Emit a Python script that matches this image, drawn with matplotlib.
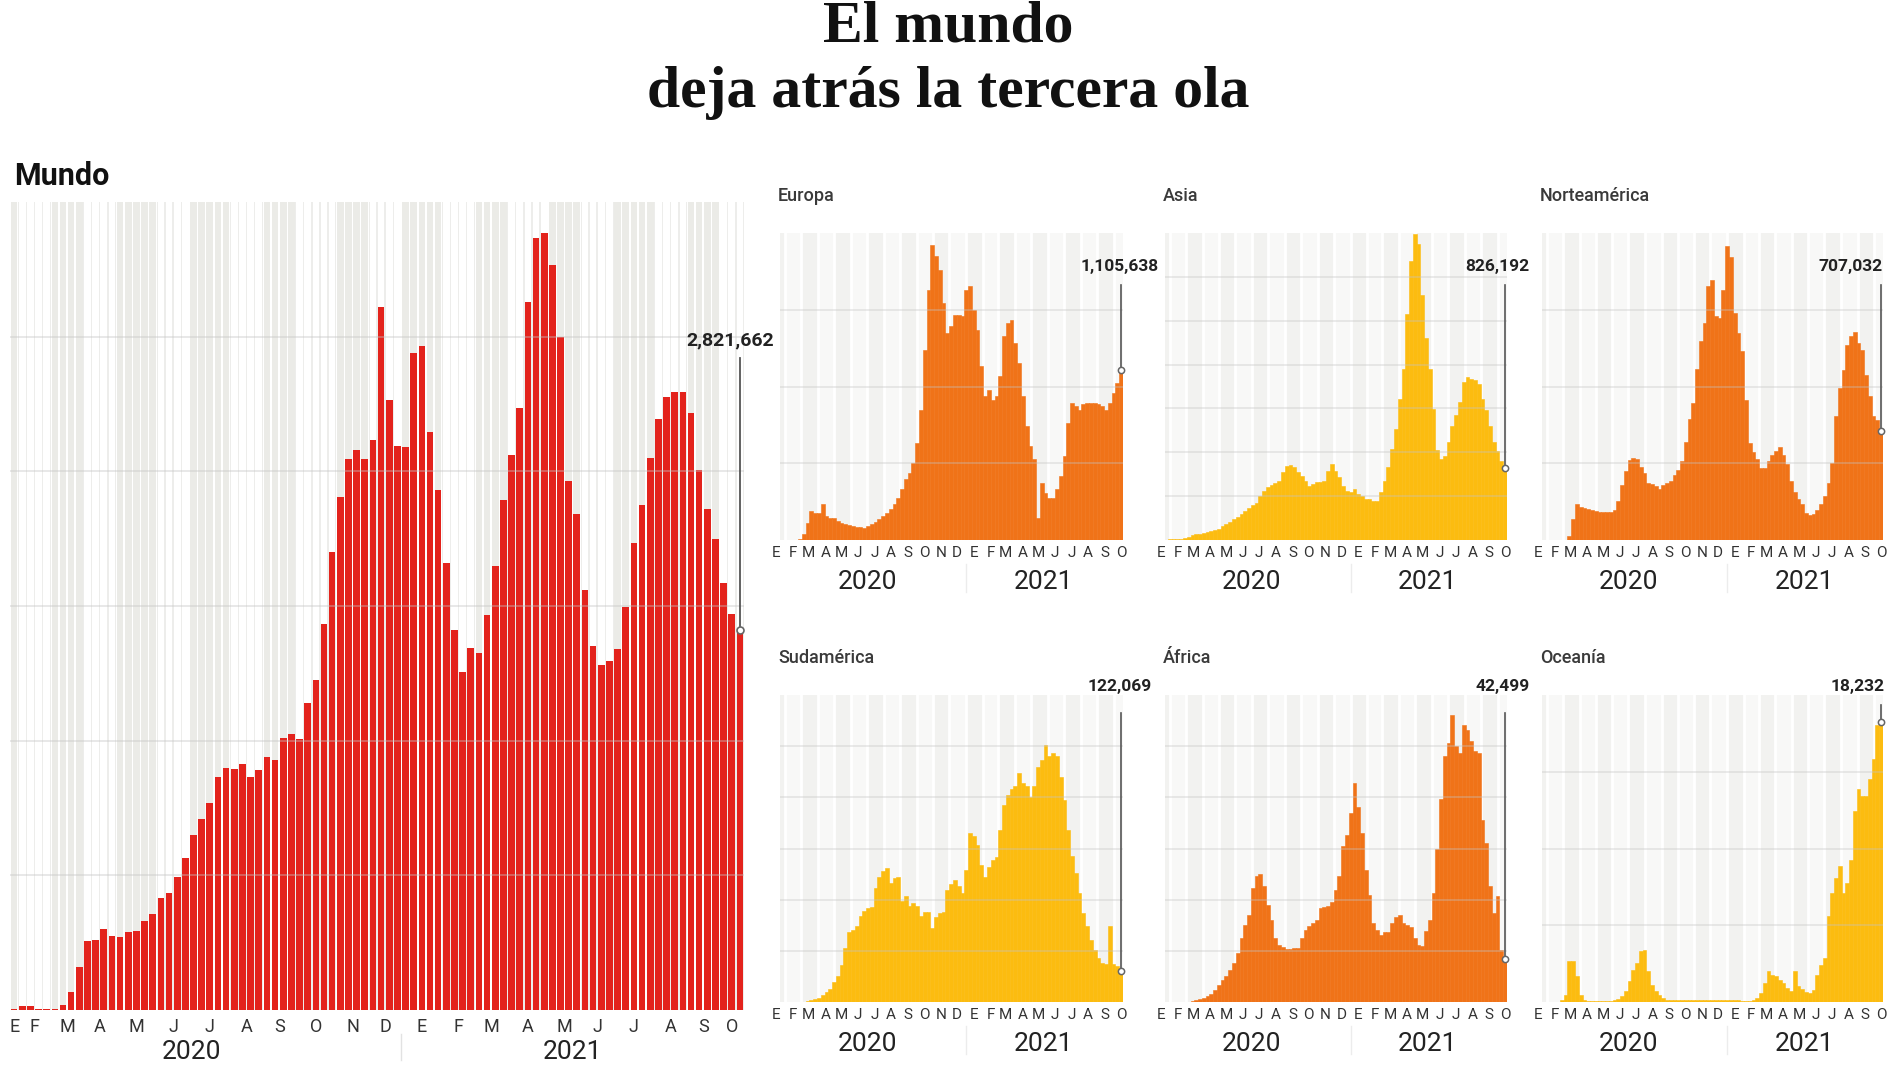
import matplotlib
matplotlib.use('Agg')
import matplotlib.pyplot as plt
import matplotlib.dates as mdates
import matplotlib.transforms as mtransforms
import numpy as np
import pandas as pd

plt.rcParams['font.family'] = ['Roboto', 'DejaVu Sans']

W, H = 1900, 1068

# semanas (viernes) de 2020-01-31 a 2021-10-15
semanas = pd.date_range('2020-01-31', periods=90, freq='7D')
MESES = 'EFMAMJJASOND'

# casos semanales, millones
mundo = [0.01, 0.03, 0.03, 0.005, 0.005, 0.01, 0.04, 0.13, 0.32, 0.51,
         0.52, 0.60, 0.55, 0.54, 0.58, 0.59, 0.66, 0.71, 0.83, 0.87,
         0.99, 1.13, 1.30, 1.42, 1.54, 1.73, 1.80, 1.79, 1.83, 1.73,
         1.78, 1.88, 1.86, 2.02, 2.05, 2.01, 2.28, 2.45, 2.87, 3.40,
         3.81, 4.09, 4.16, 4.09, 4.23, 5.22, 4.53, 4.19, 4.18, 4.88,
         4.93, 4.29, 3.86, 3.32, 2.82, 2.51, 2.69, 2.65, 2.93, 3.30,
         3.79, 4.12, 4.47, 5.26, 5.73, 5.77, 5.53, 5.00, 3.93, 3.68,
         3.12, 2.70, 2.56, 2.59, 2.68, 2.99, 3.47, 3.75, 4.10, 4.39,
         4.55, 4.59, 4.59, 4.43, 4.01, 3.72, 3.50, 3.17, 2.94, 2.821662]

# casos semanales por región, miles
europa = [0, 0, 0, 0, 4, 37, 113, 189, 178, 178,
          232, 156, 145, 145, 124, 113, 102, 95, 91, 87,
          82, 80, 91, 102, 117, 139, 156, 178, 200, 232,
          275, 330, 395, 438, 503, 633, 850, 1241, 1631, 1924,
          1848, 1761, 1544, 1349, 1393, 1469, 1469, 1458, 1631, 1653,
          1501, 1371, 1132, 937, 980, 915, 937, 1067, 1328, 1414,
          1436, 1284, 1154, 937, 742, 612, 525, 145, 371, 308,
          275, 275, 330, 417, 547, 764, 894, 872, 850, 883,
          894, 894, 894, 883, 872, 850, 894, 959, 1024, 1105.638]

asia = [8, 8, 8, 15, 27, 38, 53, 65, 73, 84,
        92, 99, 111, 130, 160, 187, 210, 237, 263, 294,
        332, 370, 397, 427, 496, 561, 599, 626, 649, 676,
        771, 847, 855, 828, 771, 725, 676, 618, 637, 656,
        664, 676, 790, 866, 790, 714, 618, 561, 550, 580,
        523, 496, 473, 466, 447, 447, 542, 676, 828, 1038,
        1267, 1611, 1955, 2572, 3183, 3488, 3374, 2794, 2301, 1947,
        1489, 1031, 924, 962, 1115, 1305, 1420, 1573, 1802, 1859,
        1840, 1821, 1783, 1611, 1478, 1305, 1115, 1019, 905, 826.192]

norteamerica = [0, 0, 0, 0, 0, 0, 26, 134, 237, 217,
                210, 204, 195, 188, 184, 182, 182, 182, 195, 254,
                356, 449, 521, 536, 525, 475, 438, 373, 362, 351,
                330, 356, 373, 382, 421, 456, 514, 638, 786, 894,
                1111, 1295, 1415, 1653, 1696, 1458, 1448, 1631, 1913, 1844,
                1479, 1349, 1230, 915, 633, 573, 525, 471, 471, 514,
                551, 579, 607, 551, 492, 384, 312, 265, 232, 178,
                161, 167, 195, 232, 286, 373, 503, 807, 991, 1110,
                1273, 1328, 1354, 1284, 1241, 1078, 937, 811, 781, 707.032]

sudamerica = [0, 0, 0, 0, 0, 1, 4, 9, 12, 16,
              26, 38, 51, 77, 100, 146, 211, 272, 283, 296,
              337, 354, 367, 373, 445, 488, 514, 523, 465, 484,
              490, 393, 414, 374, 387, 374, 335, 350, 350, 289,
              332, 348, 350, 439, 462, 475, 454, 426, 517, 660,
              647, 615, 536, 490, 529, 555, 568, 673, 771, 810,
              832, 843, 895, 855, 843, 803, 843, 920, 946, 1005,
              960, 973, 962, 881, 790, 673, 569, 504, 426, 348,
              296, 244, 204, 171, 152, 150, 296, 150, 139, 122.069]

africa = [0, 0, 0, 0, 0, 0.3, 1.0, 1.6, 2.9, 3.9,
          5.5, 8.1, 11.4, 16.9, 21.2, 25.1, 31.6, 38.1, 47.9, 62.5,
          75.6, 85.3, 111.4, 122.8, 125.4, 113.0, 95.1, 80.5, 62.5, 56.0,
          53.7, 51.8, 51.8, 52.8, 52.8, 62.5, 70.0, 73.9, 77.2, 79.8,
          91.8, 92.8, 93.5, 97.4, 109.8, 122.8, 152.1, 163.5, 184.7, 213.7,
          190.9, 164.8, 128.7, 104.6, 76.9, 70.4, 65.5, 68.7, 68.7, 76.9,
          83.4, 85.0, 76.9, 75.2, 73.0, 62.5, 56.0, 54.4, 69.1, 80.5,
          106.5, 149.2, 198.1, 240.4, 253.4, 280.8, 249.8, 243.3, 271.0, 266.1,
          254.9, 245.0, 243.3, 178.2, 155.4, 113.0, 87.0, 103.3, 51.1, 42.499]

oceania = [0, 0, 0, 0, 0.11, 0.48, 2.65, 2.65, 1.67, 0.48,
           0.15, 0.09, 0.07, 0.07, 0.07, 0.07, 0.07, 0.09, 0.11, 0.20,
           0.37, 0.70, 1.35, 2.11, 2.54, 3.30, 3.41, 2.00, 1.13, 0.70,
           0.43, 0.26, 0.15, 0.11, 0.11, 0.11, 0.11, 0.11, 0.11, 0.11,
           0.11, 0.11, 0.11, 0.11, 0.11, 0.11, 0.13, 0.13, 0.11, 0.11,
           0.11, 0.11, 0.09, 0.09, 0.09, 0.15, 0.26, 0.59, 1.24, 2.00,
           1.78, 1.67, 1.46, 1.24, 0.91, 0.70, 2.00, 1.07, 0.85, 0.63,
           0.59, 0.80, 1.78, 2.43, 2.87, 5.59, 7.11, 8.09, 8.85, 7.11,
           7.76, 9.28, 12.43, 13.85, 13.41, 13.41, 14.50, 15.80, 18.02, 18.232]

ROJO = '#e3231c'
NARANJA = '#f07318'
AMARILLO = '#fcbc10'


def fx(x):
    return x / W


def fy(y):
    return 1 - y / H


fig = plt.figure(figsize=(W / 100, H / 100), dpi=100)
fig.patch.set_facecolor('white')

# ---------------- título ----------------
tfont = dict(family=['Liberation Serif', 'DejaVu Serif'], weight='bold',
             fontsize=43, color='#111111', ha='center', va='baseline')
fig.text(fx(948), fy(42), 'El mundo', **tfont)
fig.text(fx(948), fy(107), 'deja atrás la tercera ola', **tfont)

# ---------------- Mundo ----------------
xn = mdates.date2num(semanas)
x0, x1 = xn[0] - 3.5, xn[-1] + 3.5

ax = fig.add_axes([fx(10), fy(1010), (744 - 10) / W, (1010 - 202) / H])
ymax = 6.0
impar = np.array([d.month % 2 == 1 for d in semanas])
ax.bar(xn, ymax, width=7, color=np.where(impar, 'white', '#ededeb'),
       linewidth=0, zorder=0)
ax.bar(xn, ymax, width=5.7, color=np.where(impar, '#ebebe7', 'white'),
       linewidth=0, zorder=0.5)
ax.bar(xn, mundo, width=5.7, color=ROJO, linewidth=0, zorder=2)
for v in np.arange(1, ymax, 1):
    ax.axhline(v, color='#c4c4c4', lw=1.2, alpha=0.45, zorder=3)
ax.set_xlim(x0, x1)
ax.set_ylim(0, ymax)
ax.axis('off')

fig.text(fx(14), fy(185), 'Mundo', fontsize=22, weight='bold',
         color='#111111', ha='left', va='baseline')

tr = mtransforms.blended_transform_factory(ax.transData, fig.transFigure)
grupos = pd.Series(xn).groupby([semanas.year, semanas.month]).mean()
for (yr, m), cx in grupos.items():
    ax.text(cx, fy(1027), MESES[m - 1], transform=tr, ha='center', va='center',
            fontsize=13, color='#333333')
for yr in (2020, 2021):
    a = mdates.date2num(pd.Timestamp(f'{yr}-01-01'))
    b = mdates.date2num(min(pd.Timestamp(f'{yr}-12-31'), semanas[-1]))
    ax.text((a + b) / 2, fy(1052), str(yr), transform=tr, ha='center',
            va='center', fontsize=19, color='#222222')
corte = (mdates.date2num(pd.Timestamp('2020-12-25')) + mdates.date2num(pd.Timestamp('2021-01-01'))) / 2
ax.plot([corte, corte], [fy(1034), fy(1060)], transform=tr, color='#e2e2e2',
        lw=1, clip_on=False)

# anotación último valor
ultimo = mundo[-1]
ax.plot([xn[-1], xn[-1]], [ultimo, (1010 - 358) / 808 * ymax], color='#555555',
        lw=1.3, zorder=4, clip_on=False)
ax.plot(xn[-1], ultimo, 'o', ms=5, mfc='white', mec='#666666', mew=1.2,
        zorder=5, clip_on=False)
fig.text(fx(730), fy(340), f'{round(ultimo * 1e6):,}', fontsize=14,
         weight='bold', color='#222222', ha='center', va='center')

# ---------------- regiones ----------------
paneles = [
    # titulo, datos, color, ymax, paso, caja (izq, arriba, der, abajo), etiqueta x,y, tope de línea
    ('Europa', europa, NARANJA, 2000, 500, (780, 233, 1123, 540), (1120, 267), 285),
    ('Asia', asia, AMARILLO, 3500, 500, (1165, 233, 1507, 540), (1497, 267), 285),
    ('Norteamérica', norteamerica, NARANJA, 2000, 500, (1542, 233, 1883, 540), (1851, 267), 285),
    ('Sudamérica', sudamerica, AMARILLO, 1200, 200, (780, 695, 1123, 1002), (1120, 687), 713),
    ('África', africa, NARANJA, 300, 50, (1165, 695, 1507, 1002), (1503, 687), 713),
    ('Oceanía', oceania, AMARILLO, 20, 5, (1542, 695, 1883, 1002), (1858, 687), 705),
]

d0 = mdates.date2num(pd.Timestamp('2020-01-22'))
meses = pd.date_range('2020-01-01', '2021-10-01', freq='MS')

for titulo, datos, color, ym, paso, (l, t, r, b), (lx, ly), ltop in paneles:
    axr = fig.add_axes([fx(l), fy(b), (r - l) / W, (b - t) / H])
    axr.set_xlim(d0, x1)
    axr.set_ylim(0, ym)
    for i, m in enumerate(meses):
        a = max(mdates.date2num(m), d0)
        e = min(mdates.date2num(m + pd.offsets.MonthBegin(1)), x1)
        axr.axvspan(a, e, color='#f2f2f0' if m.month % 2 == 1 else '#f8f8f7',
                    lw=0, zorder=0)
        if mdates.date2num(m) > d0:
            axr.axvline(mdates.date2num(m), color='white', lw=2, zorder=0.5)
    axr.bar(xn, datos, width=7, color=color, edgecolor=color, linewidth=0.4,
            zorder=2)
    for v in np.arange(paso, ym, paso):
        axr.axhline(v, color='#c4c4c4', lw=1.1, alpha=0.45, zorder=3)
    axr.axis('off')

    fig.text(fx(l - 2), fy(t - 32), titulo, fontsize=13, weight='medium',
             color='#3a3a3a', ha='left', va='baseline')

    trr = mtransforms.blended_transform_factory(axr.transData, fig.transFigure)
    for m in meses:
        cx = mdates.date2num(m + pd.Timedelta(days=14))
        axr.text(cx, fy(b + 13), MESES[m.month - 1], transform=trr,
                 ha='center', va='center', fontsize=11, color='#333333',
                 clip_on=False)
    for yr in (2020, 2021):
        a = mdates.date2num(pd.Timestamp(f'{yr}-01-01'))
        e = mdates.date2num(min(pd.Timestamp(f'{yr}-12-31'), semanas[-1]))
        axr.text((a + e) / 2, fy(b + 42), str(yr), transform=trr,
                 ha='center', va='center', fontsize=19, color='#222222')
    c21 = mdates.date2num(pd.Timestamp('2021-01-01'))
    axr.plot([c21, c21], [fy(b + 24), fy(b + 52)], transform=trr,
             color='#ececec', lw=1, clip_on=False)

    ult = datos[-1]
    axr.plot([xn[-1], xn[-1]], [ult, (b - ltop) / (b - t) * ym],
             color='#555555', lw=1.2, zorder=4, clip_on=False)
    axr.plot(xn[-1], ult, 'o', ms=4.5, mfc='white', mec='#666666', mew=1.1,
             zorder=5, clip_on=False)
    fig.text(fx(lx), fy(ly), f'{round(ult * 1000):,}', fontsize=12.5,
             weight='bold', color='#222222', ha='center', va='center')

fig.savefig('out.png', dpi=100, facecolor='white')
